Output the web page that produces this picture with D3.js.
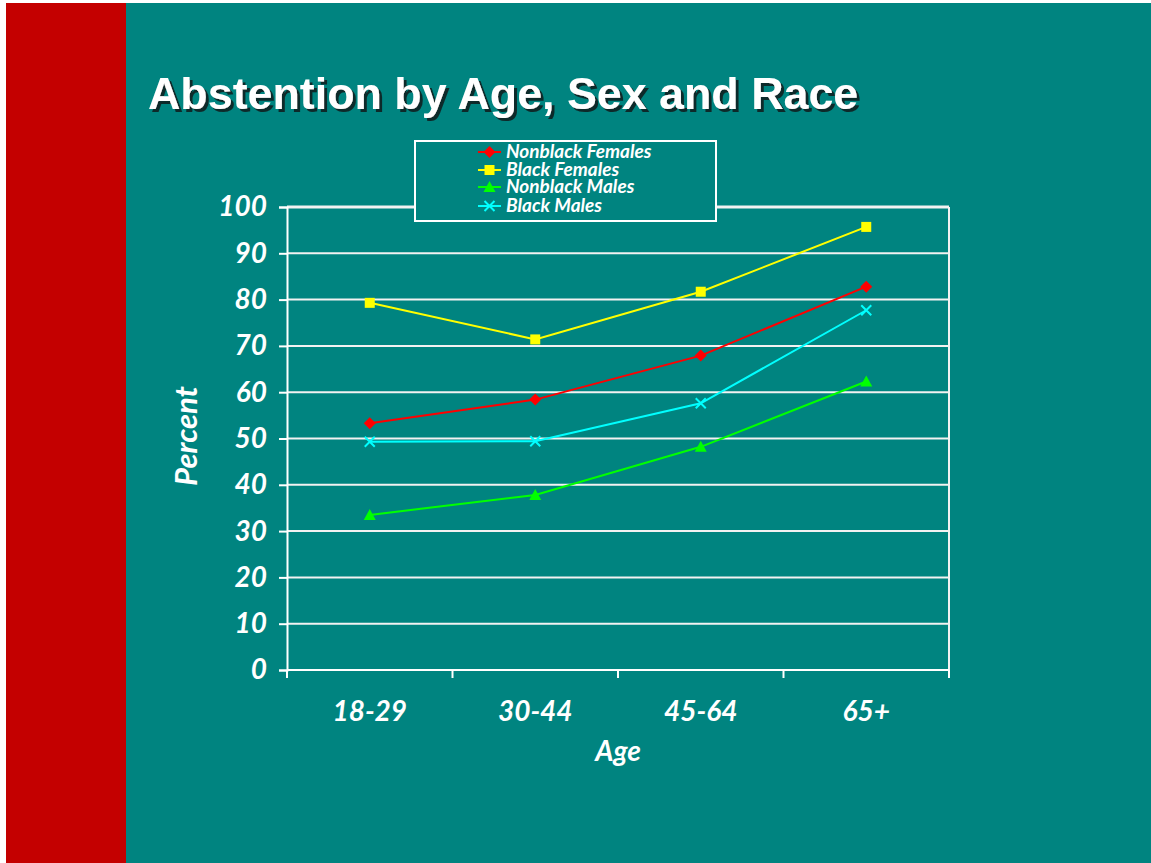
<!DOCTYPE html>
<html>
<head>
<meta charset="utf-8">
<script src="https://cdn.jsdelivr.net/npm/d3@7"></script>
<style>
  html, body { margin: 0; padding: 0; background: #ffffff; }
  svg { display: block; }
</style>
</head>
<body>
<svg id="chart" width="1151" height="863"></svg>
<script>
// Age groups on the x axis
const ageGroups = ["18-29", "30-44", "45-64", "65+"];
// Series names and values (percent abstaining)
const seriesNames = ["Nonblack Females", "Black Females", "Nonblack Males", "Black Males"];
const nonblackFemales = [53.3, 58.4, 67.9, 82.8];
const blackFemales = [79.3, 71.4, 81.7, 95.7];
const nonblackMales = [33.5, 37.8, 48.2, 62.3];
const blackMales = [49.3, 49.4, 57.6, 77.7];
const yTicks = [0, 10, 20, 30, 40, 50, 60, 70, 80, 90, 100];

const seriesValues = [nonblackFemales, blackFemales, nonblackMales, blackMales];
const seriesColors = ["#ff0000", "#ffff00", "#00ff00", "#00ffff"];
const seriesMarkers = ["diamond", "square", "triangle", "cross"];

const svg = d3.select("#chart");
const W = 1151, H = 863;
const teal = "#008480";

// Drop shadow for the title
const defs = svg.append("defs");
const shadow = defs.append("filter").attr("id", "titleShadow")
  .attr("x", "-5%").attr("y", "-20%").attr("width", "110%").attr("height", "140%");
shadow.append("feDropShadow").attr("dx", 3).attr("dy", 3).attr("stdDeviation", 0)
  .attr("flood-color", "#0a2a2a").attr("flood-opacity", 1);

// Slide background: red band on the left, teal panel for the rest
svg.append("rect").attr("x", 0).attr("y", 0).attr("width", W).attr("height", H).attr("fill", "#ffffff");
svg.append("rect").attr("x", 6).attr("y", 3).attr("width", 120).attr("height", H - 3).attr("fill", "#c40000");
svg.append("rect").attr("x", 126).attr("y", 3).attr("width", W - 126).attr("height", H - 3).attr("fill", teal);

// Title
svg.append("text").attr("x", 148).attr("y", 109)
  .attr("font-family", "Liberation Sans, Arial, sans-serif").attr("font-weight", "bold")
  .attr("font-size", 44.8).attr("fill", "#ffffff").attr("filter", "url(#titleShadow)")
  .text("Abstention by Age, Sex and Race");

// Plot area
const plot = { left: 287, right: 949, top: 207, bottom: 670 };
const x = d3.scaleBand().domain(ageGroups).range([plot.left, plot.right]);
const y = d3.scaleLinear().domain([0, 100]).range([plot.bottom, plot.top]);

const labelFont = "Lato, 'Open Sans', sans-serif";

// Horizontal gridlines
svg.append("g").selectAll("line").data(yTicks.filter(d => d > 0)).join("line")
  .attr("x1", plot.left).attr("x2", plot.right)
  .attr("y1", d => y(d)).attr("y2", d => y(d))
  .attr("stroke", "#f2f2f2").attr("stroke-width", d => d === 100 ? 3 : 2);

// Right border of plot
svg.append("line").attr("x1", plot.right).attr("x2", plot.right)
  .attr("y1", plot.top).attr("y2", plot.bottom + 8)
  .attr("stroke", "#f2f2f2").attr("stroke-width", 2);

// Y axis
const yAxis = svg.append("g").attr("transform", `translate(${plot.left},0)`)
  .call(d3.axisLeft(y).tickValues(yTicks).tickSize(8).tickPadding(12));
yAxis.select(".domain").attr("stroke", "#ffffff").attr("stroke-width", 2);
yAxis.selectAll(".tick line").attr("stroke", "#ffffff").attr("stroke-width", 2);
yAxis.selectAll(".tick text").attr("fill", "#ffffff")
  .attr("font-family", labelFont).attr("font-style", "italic").attr("font-weight", "bold")
  .attr("font-size", 28);

// X axis: ticks at category boundaries, labels centred in each band
const xAxisG = svg.append("g").attr("transform", `translate(0,${plot.bottom})`);
xAxisG.append("line").attr("x1", plot.left).attr("x2", plot.right)
  .attr("stroke", "#ffffff").attr("stroke-width", 2);
const boundaries = ageGroups.map(d => x(d)).concat([plot.right]);
xAxisG.selectAll("line.tick").data(boundaries).join("line").attr("class", "tick")
  .attr("x1", d => d).attr("x2", d => d).attr("y1", 0).attr("y2", 8)
  .attr("stroke", "#ffffff").attr("stroke-width", 2);
xAxisG.selectAll("text").data(ageGroups).join("text")
  .attr("x", d => x(d) + x.bandwidth() / 2).attr("y", 51)
  .attr("text-anchor", "middle").attr("fill", "#ffffff")
  .attr("font-family", labelFont).attr("font-style", "italic").attr("font-weight", "bold")
  .attr("font-size", 28).text(d => d);

// Axis titles
svg.append("text").attr("x", 618).attr("y", 761).attr("text-anchor", "middle")
  .attr("fill", "#ffffff").attr("font-family", labelFont).attr("font-style", "italic")
  .attr("font-weight", "bold").attr("font-size", 28).text("Age");
svg.append("text").attr("transform", "translate(197,436) rotate(-90)").attr("text-anchor", "middle")
  .attr("fill", "#ffffff").attr("font-family", labelFont).attr("font-style", "italic")
  .attr("font-weight", "bold").attr("font-size", 31).text("Percent");

// Marker drawing
function drawMarker(g, kind, color, cx, cy) {
  if (kind === "diamond") {
    g.append("path").attr("d", `M${cx},${cy - 6}L${cx + 6},${cy}L${cx},${cy + 6}L${cx - 6},${cy}Z`).attr("fill", color);
  } else if (kind === "square") {
    g.append("rect").attr("x", cx - 5).attr("y", cy - 5).attr("width", 10).attr("height", 10).attr("fill", color);
  } else if (kind === "triangle") {
    g.append("path").attr("d", `M${cx},${cy - 6}L${cx + 6},${cy + 5}L${cx - 6},${cy + 5}Z`).attr("fill", color);
  } else {
    g.append("path").attr("d", `M${cx - 5},${cy - 5}L${cx + 5},${cy + 5}M${cx + 5},${cy - 5}L${cx - 5},${cy + 5}`)
      .attr("stroke", color).attr("stroke-width", 2).attr("fill", "none");
  }
}

// Series lines and markers
const line = d3.line().x((d, i) => x(ageGroups[i]) + x.bandwidth() / 2).y(d => y(d));
seriesValues.forEach((vals, s) => {
  const g = svg.append("g");
  g.append("path").datum(vals).attr("d", line).attr("fill", "none")
    .attr("stroke", seriesColors[s]).attr("stroke-width", 2);
  vals.forEach((v, i) => drawMarker(g, seriesMarkers[s], seriesColors[s], x(ageGroups[i]) + x.bandwidth() / 2, y(v)));
});

// Legend
const legend = svg.append("g");
legend.append("rect").attr("x", 415).attr("y", 141).attr("width", 301).attr("height", 80)
  .attr("fill", teal).attr("stroke", "#ffffff").attr("stroke-width", 2);
const rowY = [152, 170, 187, 206];
seriesNames.forEach((name, s) => {
  const ry = rowY[s];
  legend.append("line").attr("x1", 478).attr("x2", 501).attr("y1", ry).attr("y2", ry)
    .attr("stroke", seriesColors[s]).attr("stroke-width", 2);
  drawMarker(legend, seriesMarkers[s], seriesColors[s], 489.5, ry);
  legend.append("text").attr("x", 506).attr("y", ry + 6).attr("fill", "#ffffff")
    .attr("font-family", labelFont).attr("font-style", "italic").attr("font-weight", "bold")
    .attr("font-size", 19).text(name);
});
</script>
</body>
</html>
